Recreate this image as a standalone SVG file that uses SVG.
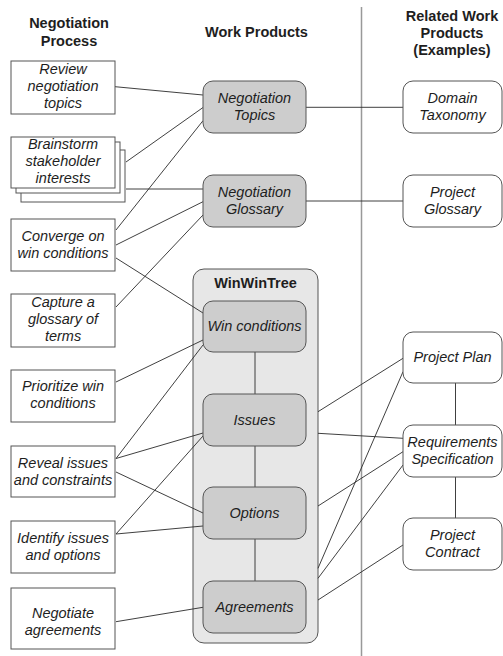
<svg xmlns="http://www.w3.org/2000/svg" width="503" height="656" viewBox="0 0 503 656">
<style>
text{font-family:"Liberation Sans",Arial,sans-serif;font-size:14.5px;fill:#1e1e1e;text-anchor:middle}
.h{font-weight:bold}
.i{font-style:italic}
.proc{fill:#fff;stroke:#555;stroke-width:1}
.wp{fill:#cdcdcd;stroke:#555;stroke-width:1}
.rel{fill:#fff;stroke:#555;stroke-width:1}
.cont{fill:#e7e7e7;stroke:#555;stroke-width:1}
.c line{stroke:#2a2a2a;stroke-width:0.9}
</style>
<rect width="503" height="656" fill="#fff"/>
<g id="headers">
<text class="h" x="69" y="28">Negotiation</text>
<text class="h" x="69" y="46">Process</text>
<text class="h" x="256.5" y="37">Work Products</text>
<text class="h" x="452" y="21">Related Work</text>
<text class="h" x="452" y="38">Products</text>
<text class="h" x="452" y="55">(Examples)</text>
</g>
<line id="divider" x1="361.5" y1="7" x2="361.5" y2="656" stroke="#999" stroke-width="1.5"/>
<g id="wintree">
<rect class="cont" x="193" y="269" width="125" height="374" rx="11"/>
<text class="h" x="255.5" y="288">WinWinTree</text>
</g>
<g class="c" id="connectors">
<line x1="115" y1="86.7" x2="203" y2="95"/>
<line x1="126" y1="162" x2="203" y2="107.5"/>
<line x1="116" y1="230" x2="203" y2="120.7"/>
<line x1="126" y1="189" x2="203" y2="189"/>
<line x1="116" y1="245" x2="203" y2="201.7"/>
<line x1="116" y1="307" x2="203" y2="215"/>
<line x1="116" y1="258" x2="203" y2="313"/>
<line x1="116" y1="382" x2="203" y2="340"/>
<line x1="116" y1="458.5" x2="203" y2="345"/>
<line x1="116" y1="458.5" x2="203" y2="433"/>
<line x1="116" y1="472" x2="203" y2="513"/>
<line x1="116" y1="534" x2="203" y2="436"/>
<line x1="116" y1="534" x2="203" y2="526"/>
<line x1="116" y1="621.7" x2="203" y2="607.3"/>
<line x1="306" y1="107.3" x2="403" y2="107.3"/>
<line x1="306" y1="201" x2="403" y2="201"/>
<line x1="318" y1="411.7" x2="403" y2="358.3"/>
<line x1="318" y1="433.3" x2="403" y2="438.3"/>
<line x1="318" y1="506" x2="403" y2="451.7"/>
<line x1="318" y1="568.3" x2="403" y2="371.7"/>
<line x1="318" y1="578.3" x2="403" y2="465"/>
<line x1="318" y1="600" x2="403" y2="545"/>
<line x1="255" y1="352" x2="255" y2="394"/>
<line x1="255" y1="446" x2="255" y2="487"/>
<line x1="255" y1="539" x2="255" y2="581"/>
<line x1="455.5" y1="383" x2="455.5" y2="425"/>
<line x1="455.5" y1="477" x2="455.5" y2="518"/>
</g>
<g id="review"><rect class="proc" x="11" y="61" width="104" height="53"/>
<text class="i" x="63" y="74">Review</text><text class="i" x="63" y="91">negotiation</text><text class="i" x="63" y="108">topics</text></g>
<g id="brainstorm">
<rect class="proc" x="21" y="150" width="104" height="52"/>
<rect class="proc" x="16" y="142" width="104" height="51"/>
<rect class="proc" x="11" y="137" width="104" height="51"/>
<text class="i" x="63" y="149">Brainstorm</text><text class="i" x="63" y="166">stakeholder</text><text class="i" x="63" y="183">interests</text></g>
<g id="converge"><rect class="proc" x="11" y="219" width="104" height="52"/>
<text class="i" x="63" y="240.5">Converge on</text><text class="i" x="63" y="257.5">win conditions</text></g>
<g id="capture"><rect class="proc" x="11" y="294" width="104" height="53"/>
<text class="i" x="63" y="307">Capture a</text><text class="i" x="63" y="324">glossary of</text><text class="i" x="63" y="341">terms</text></g>
<g id="prioritize"><rect class="proc" x="11" y="370" width="104" height="52"/>
<text class="i" x="63" y="391">Prioritize win</text><text class="i" x="63" y="408">conditions</text></g>
<g id="reveal"><rect class="proc" x="11" y="446" width="104" height="51"/>
<text class="i" x="63" y="467.5">Reveal issues</text><text class="i" x="63" y="484.5">and constraints</text></g>
<g id="identify"><rect class="proc" x="11" y="521" width="104" height="52"/>
<text class="i" x="63" y="542.5">Identify issues</text><text class="i" x="63" y="559.5">and options</text></g>
<g id="negotiate"><rect class="proc" x="11" y="588" width="104" height="61"/>
<text class="i" x="63" y="618">Negotiate</text><text class="i" x="63" y="635">agreements</text></g>
<g id="topics"><rect class="wp" x="203" y="81" width="103" height="52" rx="10"/>
<text class="i" x="254.5" y="102.5">Negotiation</text><text class="i" x="254.5" y="119.5">Topics</text></g>
<g id="glossary"><rect class="wp" x="203" y="175" width="103" height="52" rx="10"/>
<text class="i" x="254.5" y="196.5">Negotiation</text><text class="i" x="254.5" y="213.5">Glossary</text></g>
<g id="wincond"><rect class="wp" x="203" y="301" width="103" height="51" rx="10"/>
<text class="i" x="254.5" y="331">Win conditions</text></g>
<g id="issues"><rect class="wp" x="203" y="394" width="103" height="52" rx="10"/>
<text class="i" x="254.5" y="424.5">Issues</text></g>
<g id="options"><rect class="wp" x="203" y="487" width="103" height="52" rx="10"/>
<text class="i" x="254.5" y="517.5">Options</text></g>
<g id="agreements"><rect class="wp" x="203" y="581" width="103" height="52" rx="10"/>
<text class="i" x="254.5" y="611.5">Agreements</text></g>
<g id="taxonomy"><rect class="rel" x="403" y="81" width="99" height="52" rx="10"/>
<text class="i" x="452.5" y="102.5">Domain</text><text class="i" x="452.5" y="119.5">Taxonomy</text></g>
<g id="projglossary"><rect class="rel" x="403" y="175" width="99" height="52" rx="10"/>
<text class="i" x="452.5" y="196.5">Project</text><text class="i" x="452.5" y="213.5">Glossary</text></g>
<g id="plan"><rect class="rel" x="403" y="332" width="99" height="51" rx="10"/>
<text class="i" x="452.5" y="362">Project Plan</text></g>
<g id="reqspec"><rect class="rel" x="403" y="425" width="99" height="52" rx="10"/>
<text class="i" x="452.5" y="446.5">Requirements</text><text class="i" x="452.5" y="463.5">Specification</text></g>
<g id="contract"><rect class="rel" x="403" y="518" width="99" height="52" rx="10"/>
<text class="i" x="452.5" y="539.5">Project</text><text class="i" x="452.5" y="556.5">Contract</text></g>
</svg>
